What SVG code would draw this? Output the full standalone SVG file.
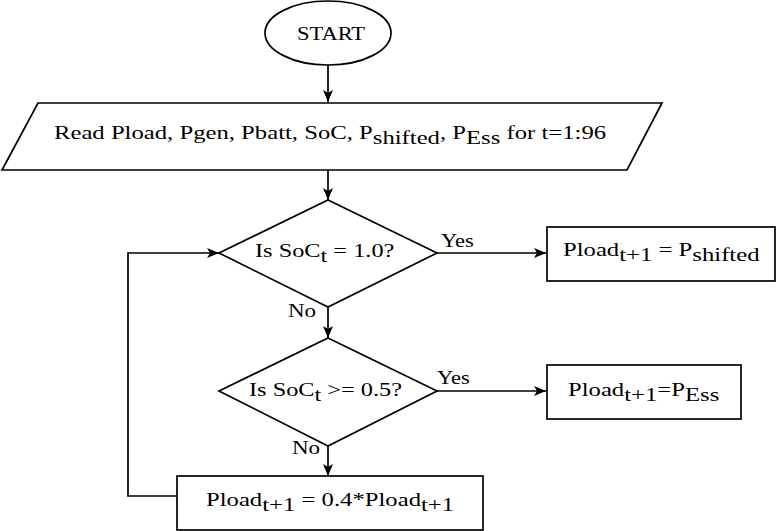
<svg xmlns="http://www.w3.org/2000/svg" width="777" height="531" viewBox="0 0 777 531">
<style>
.s{fill:#fff;stroke:#000;stroke-width:1.7}
.c{fill:none;stroke:#000;stroke-width:1.7}
</style>
<defs>
<marker id="a" viewBox="0 0 12 10" refX="12" refY="5" markerWidth="12" markerHeight="10" markerUnits="userSpaceOnUse" orient="auto">
<path d="M0,0 L12,5 L0,10 L3,5 z" fill="#000"/>
</marker>
</defs>
<rect width="777" height="531" fill="#fff"/>
<g id="connectors">
<path class="c" d="M328,65 V102" marker-end="url(#a)"/>
<path class="c" d="M328,170 V200" marker-end="url(#a)"/>
<path class="c" d="M437,253 H546" marker-end="url(#a)"/>
<path class="c" d="M328,307 V338" marker-end="url(#a)"/>
<path class="c" d="M437,391 H546" marker-end="url(#a)"/>
<path class="c" d="M328,446 V476" marker-end="url(#a)"/>
<path class="c" d="M177,496 H128 V253 H219" marker-end="url(#a)"/>
<g font-family="Liberation Serif, serif" font-size="18" fill="#000">
<text transform="translate(441,247) scale(1.25,1)">Yes</text>
<text transform="translate(288,317) scale(1.28,1)">No</text>
<text transform="translate(437,384) scale(1.25,1)">Yes</text>
<text transform="translate(292,454) scale(1.28,1)">No</text>
</g>
</g>
<g font-family="Liberation Serif, serif" font-size="19" fill="#000">
<g id="start">
<ellipse class="s" cx="328" cy="33" rx="63" ry="32"/>
<text transform="translate(331,40) scale(1.25,1)" text-anchor="middle" font-size="18">START</text>
</g>
<g id="read">
<path class="s" d="M38,103 H662 L627,170 H2 Z"/>
<text transform="translate(54,139) scale(1.3,1)">Read Pload, Pgen, Pbatt, SoC, P<tspan dy="5">shifted</tspan><tspan dy="-5">, P</tspan><tspan dy="5">Ess</tspan><tspan dy="-5"> for t=1:96</tspan></text>
</g>
<g id="d1">
<path class="s" d="M328,200 L437,253 L328,307 L219,253 Z"/>
<text transform="translate(255,257) scale(1.28,1)">Is  SoC<tspan dy="5">t</tspan><tspan dy="-5"> = 1.0?</tspan></text>
</g>
<g id="r1">
<rect class="s" x="547" y="227" width="228" height="54"/>
<text transform="translate(563,256) scale(1.3,1)">Pload<tspan dy="5">t+1</tspan><tspan dy="-5"> = P</tspan><tspan dy="5">shifted</tspan></text>
</g>
<g id="d2">
<path class="s" d="M328,338 L437,391 L328,446 L219,391 Z"/>
<text transform="translate(249,396) scale(1.28,1)">Is  SoC<tspan dy="5">t</tspan><tspan dy="-5"> &gt;= 0.5?</tspan></text>
</g>
<g id="r2">
<rect class="s" x="547" y="365" width="194" height="54"/>
<text transform="translate(568,396) scale(1.3,1)">Pload<tspan dy="5">t+1</tspan><tspan dy="-5">=P</tspan><tspan dy="5">Ess</tspan></text>
</g>
<g id="r3">
<rect class="s" x="177" y="476" width="306" height="54"/>
<text transform="translate(206,506) scale(1.3,1)">Pload<tspan dy="5">t+1</tspan><tspan dy="-5"> = 0.4*Pload</tspan><tspan dy="5">t+1</tspan></text>
</g>
</g>
</svg>
